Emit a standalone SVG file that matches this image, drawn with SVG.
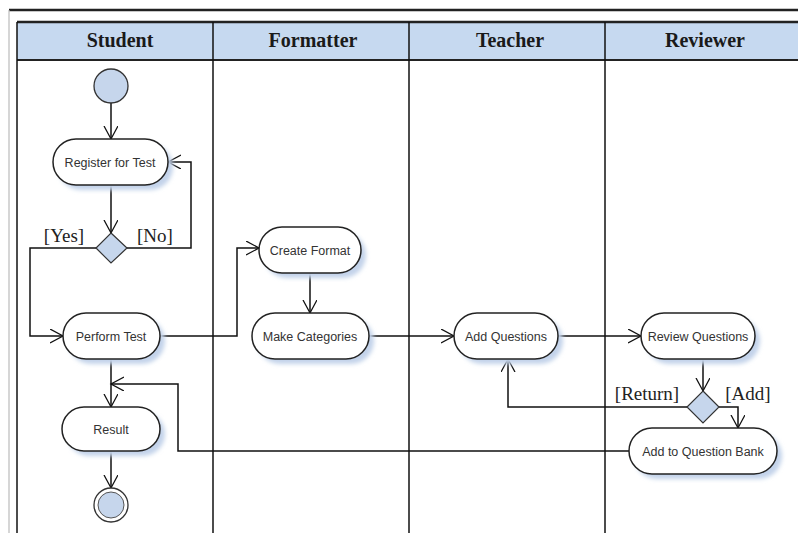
<svg xmlns="http://www.w3.org/2000/svg" width="798" height="533" viewBox="0 0 798 533">
<style>
.lane{fill:none;stroke:#111;stroke-width:1.5}
.hdr{font-family:"Liberation Serif",serif;font-weight:bold;font-size:20px;fill:#1a1a1a;text-anchor:middle}
.act{fill:#fff;stroke:#222;stroke-width:1.5}
.sh{fill:#c3d3ea;filter:url(#blur)}
.lbl{font-family:"Liberation Sans",Arial,sans-serif;font-size:12.5px;fill:#333;text-anchor:middle}
.grd{font-family:"Liberation Serif",serif;font-size:19px;fill:#222;text-anchor:middle}
.edge{fill:none;stroke:#111;stroke-width:1.5}
.dec{fill:#c6d6ec;stroke:#333;stroke-width:1.2}
</style>
<defs>
<filter id="blur" x="-20%" y="-20%" width="140%" height="140%"><feGaussianBlur stdDeviation="2"/></filter>
<marker id="arr" markerUnits="userSpaceOnUse" markerWidth="16" markerHeight="16" refX="13" refY="7" orient="auto">
<path d="M0,0 L13,7 L0,14" fill="none" stroke="#111" stroke-width="1.3"/>
</marker>
</defs>
<rect width="798" height="533" fill="#fff"/>
<g id="frame">
<line x1="9" y1="10" x2="798" y2="10" stroke="#222" stroke-width="2.5"/>
<line x1="9" y1="10" x2="9" y2="533" stroke="#bbb" stroke-width="1.2"/>
<rect x="17" y="22" width="790" height="38" fill="#c6d9f0"/>
<line x1="17" y1="22" x2="798" y2="22" stroke="#222" stroke-width="2.5"/>
<line x1="17" y1="60" x2="798" y2="60" stroke="#222" stroke-width="2"/>
<line class="lane" x1="17" y1="22" x2="17" y2="533"/>
<line class="lane" x1="213" y1="22" x2="213" y2="533"/>
<line class="lane" x1="409" y1="22" x2="409" y2="533"/>
<line class="lane" x1="605" y1="22" x2="605" y2="533"/>
<text class="hdr" x="120" y="47">Student</text>
<text class="hdr" x="313" y="47">Formatter</text>
<text class="hdr" x="510" y="47">Teacher</text>
<text class="hdr" x="705" y="47">Reviewer</text>
</g>
<g id="connectors">
<path class="edge" d="M111,103 V139" marker-end="url(#arr)"/>
<path class="edge" d="M111,185 V233" marker-end="url(#arr)"/>
<path class="edge" d="M127,248 H191 V162 H168" marker-end="url(#arr)"/>
<path class="edge" d="M96,248 H30 V336 H63" marker-end="url(#arr)"/>
<path class="edge" d="M160,336 H237 V248 H259" marker-end="url(#arr)"/>
<path class="edge" d="M310,273 V313" marker-end="url(#arr)"/>
<path class="edge" d="M369,336 H454" marker-end="url(#arr)"/>
<path class="edge" d="M558,336 H641" marker-end="url(#arr)"/>
<path class="edge" d="M703,359 V391" marker-end="url(#arr)"/>
<path class="edge" d="M719,407 H738 V428" marker-end="url(#arr)"/>
<path class="edge" d="M687,407 H508 V359" marker-end="url(#arr)"/>
<path class="edge" d="M629,451 H178 V384 H111" marker-end="url(#arr)"/>
<path class="edge" d="M111,359 V407" marker-end="url(#arr)"/>
<path class="edge" d="M111,451 V488" marker-end="url(#arr)"/>
<text class="grd" x="64" y="242">[Yes]</text>
<text class="grd" x="155" y="242">[No]</text>
<text class="grd" x="647" y="400">[Return]</text>
<text class="grd" x="748" y="400">[Add]</text>
</g>
<g id="start">
<circle cx="111" cy="86" r="17" fill="#c6d6ec" stroke="#333" stroke-width="1.3"/>
</g>
<g id="register">
<rect class="sh" x="58" y="144" width="115" height="46" rx="23"/>
<rect class="act" x="53" y="139" width="115" height="46" rx="23"/>
<text class="lbl" x="110" y="166.5">Register for Test</text>
</g>
<g id="decision1">
<polygon class="dec" points="111,233 127,248 111,263 96,248"/>
</g>
<g id="perform">
<rect class="sh" x="68" y="318" width="97" height="46" rx="23"/>
<rect class="act" x="63" y="313" width="97" height="46" rx="23"/>
<text class="lbl" x="111" y="340.5">Perform Test</text>
</g>
<g id="createformat">
<rect class="sh" x="264" y="232" width="102" height="46" rx="23"/>
<rect class="act" x="259" y="227" width="102" height="46" rx="23"/>
<text class="lbl" x="310" y="254.5">Create Format</text>
</g>
<g id="makecategories">
<rect class="sh" x="257" y="318" width="117" height="46" rx="23"/>
<rect class="act" x="252" y="313" width="117" height="46" rx="23"/>
<text class="lbl" x="310" y="340.5">Make Categories</text>
</g>
<g id="addquestions">
<rect class="sh" x="459" y="318" width="104" height="46" rx="23"/>
<rect class="act" x="454" y="313" width="104" height="46" rx="23"/>
<text class="lbl" x="506" y="340.5">Add Questions</text>
</g>
<g id="reviewquestions">
<rect class="sh" x="646" y="318" width="114" height="46" rx="23"/>
<rect class="act" x="641" y="313" width="114" height="46" rx="23"/>
<text class="lbl" x="698" y="340.5">Review Questions</text>
</g>
<g id="decision2">
<polygon class="dec" points="703,391 719,407 703,423 687,407"/>
</g>
<g id="addbank">
<rect class="sh" x="634" y="433" width="148" height="46" rx="23"/>
<rect class="act" x="629" y="428" width="148" height="46" rx="23"/>
<text class="lbl" x="703" y="455.5">Add to Question Bank</text>
</g>
<g id="result">
<rect class="sh" x="67" y="412" width="98" height="44" rx="22"/>
<rect class="act" x="62" y="407" width="98" height="44" rx="22"/>
<text class="lbl" x="111" y="433.5">Result</text>
</g>
<g id="end">
<circle cx="111" cy="505" r="17" fill="#fff" stroke="#333" stroke-width="1.3"/>
<circle cx="111" cy="505" r="13" fill="#c6d6ec" stroke="#555" stroke-width="1"/>
</g>
</svg>
